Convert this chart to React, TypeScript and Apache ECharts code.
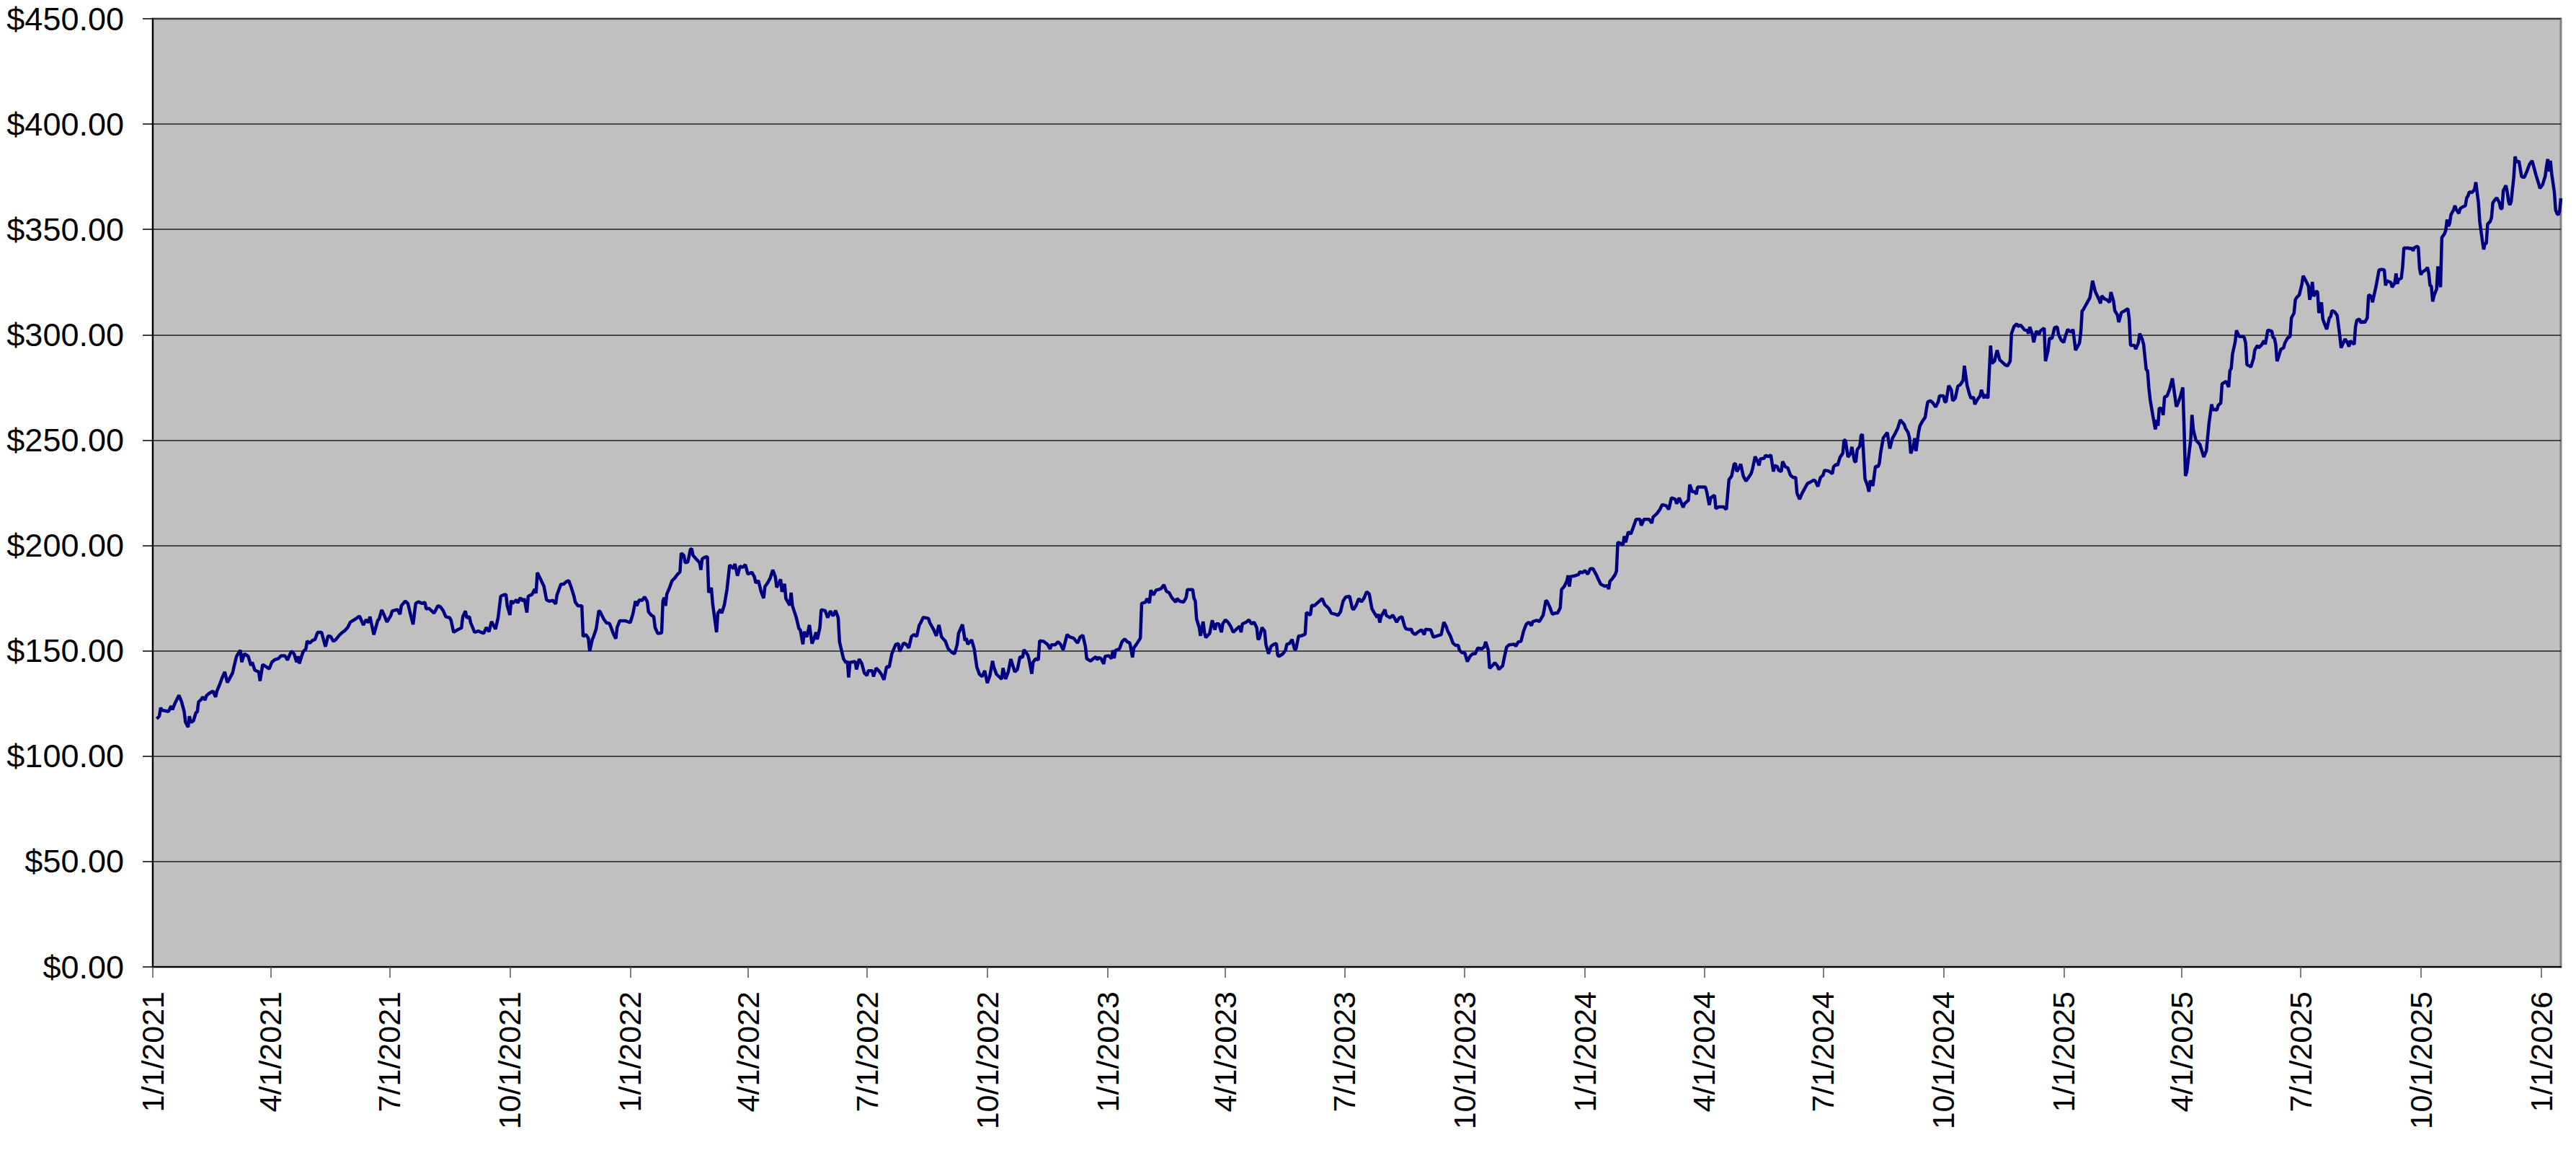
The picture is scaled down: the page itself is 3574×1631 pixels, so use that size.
import React, { useEffect, useRef } from "react";
import * as echarts from "echarts";

// ---- axis definitions ----
const START_DATE_UTC = Date.UTC(2021, 0, 1); // category 0 = 1/1/2021
const LAST_DAY_OFFSET = 1841; // right edge of the plot = 1/16/2026
const quarterStartMonths = [1, 4, 7, 10];
const yAxisMin = 0;
const yAxisMax = 450;
const yAxisStep = 50;

// ---- series values: [days since 1/1/2021, closing price] ----
const prices2021: [number, number][] = [
  [3, 117.8], [5, 119.0], [6, 123.0], [7, 121.8], [10, 121.5], [12, 121.2], [14, 123.8], [15, 122.1], [17, 125.2], [20, 128.9],
  [22, 125.8], [24, 121.2], [25, 116.1], [27, 113.8], [28, 119.0], [29, 116.1], [31, 116.7], [33, 120.7], [34, 121.0], [35, 125.8],
  [37, 126.9], [38, 128.1], [40, 126.7], [41, 128.7], [43, 129.8], [46, 130.9], [48, 128.1], [49, 130.9], [51, 133.8], [53, 137.2],
  [55, 140.0], [57, 134.9], [59, 137.2], [61, 139.5], [62, 142.3], [64, 147.4], [67, 150.3], [68, 144.6], [70, 148.6], [73, 147.4],
  [75, 143.1], [76, 144.6], [78, 140.8], [81, 140.0], [82, 135.7], [84, 143.5], [87, 142.3], [89, 141.4], [91, 144.6], [93, 145.7],
  [96, 146.3], [98, 147.7], [101, 147.7], [103, 145.7], [106, 149.9], [108, 148.6], [110, 144.6], [111, 147.4], [112, 144.0], [115, 149.7],
  [117, 150.9], [118, 154.6], [120, 153.7], [122, 154.9], [124, 155.4], [126, 158.8], [129, 158.8], [132, 152.0], [134, 157.1], [136, 156.8],
  [138, 154.5], [140, 155.4], [143, 157.7], [145, 158.8], [147, 159.7], [149, 161.1], [151, 163.6], [155, 165.1], [158, 166.5], [161, 162.3],
  [163, 164.8], [165, 163.4], [166, 166.2], [169, 157.7], [172, 164.5], [173, 165.1], [175, 169.4], [177, 166.8], [179, 163.7], [182, 166.8],
  [183, 168.9], [187, 169.6], [189, 167.4], [190, 171.4], [193, 173.6], [195, 172.5], [197, 167.4], [199, 162.6], [201, 172.5], [203, 173.3],
  [206, 172.5], [208, 173.1], [209, 169.9], [211, 170.2], [213, 169.1], [215, 167.9], [218, 171.4], [220, 170.8], [222, 169.1], [224, 166.2],
  [227, 165.7], [228, 164.5], [230, 158.8], [233, 160.0], [236, 160.9], [237, 166.2], [239, 168.9], [240, 165.7], [242, 166.2], [243, 163.4],
  [246, 158.8], [249, 159.4], [251, 158.8], [253, 158.3], [255, 161.1], [257, 159.1], [259, 163.9], [262, 160.3], [264, 165.7], [266, 175.9],
  [268, 176.5], [270, 176.8], [271, 171.4], [273, 167.0], [274, 173.9], [275, 172.5], [278, 174.2], [279, 172.7], [281, 175.2], [283, 173.6],
  [284, 174.8], [286, 168.2], [287, 175.9], [290, 176.8], [292, 179.3], [293, 177.3], [294, 187.1], [297, 183.3], [299, 180.7], [301, 174.2],
  [303, 173.6], [306, 173.9], [308, 172.2], [309, 176.5], [311, 179.9], [312, 181.6], [314, 181.6], [316, 182.8], [318, 183.3], [320, 179.9],
  [322, 175.9], [323, 173.1], [325, 171.4], [328, 171.4], [329, 156.8], [331, 157.7], [333, 156.0], [334, 149.9], [336, 155.4], [337, 156.8],
  [339, 160.5], [341, 169.1], [342, 168.5], [345, 164.8], [347, 163.2], [349, 163.1], [350, 161.7], [352, 158.3], [354, 155.8], [355, 161.1],
  [357, 164.3], [361, 164.3],
];

const prices2022: [number, number][] = [
  [365, 163.4], [367, 167.4], [369, 173.6], [370, 171.4], [372, 174.2], [374, 173.9], [376, 175.6], [378, 173.4], [379, 168.5], [381, 167.0],
  [383, 166.2], [384, 161.1], [386, 158.3], [389, 158.5], [390, 173.6], [391, 175.3], [392, 171.4], [393, 177.0], [395, 179.9], [397, 183.3],
  [399, 184.5], [401, 186.2], [403, 187.5], [404, 196.4], [406, 195.3], [407, 191.9], [409, 192.1], [411, 198.1], [412, 198.5], [413, 195.3],
  [416, 193.2], [418, 191.9], [419, 188.4], [420, 193.6], [422, 194.4], [424, 194.7], [425, 177.6], [427, 179.9], [428, 172.5], [431, 158.8],
  [432, 167.9], [434, 169.6], [435, 167.9], [437, 171.9], [439, 179.3], [441, 190.7], [442, 190.2], [444, 189.0], [445, 191.3], [447, 185.6],
  [449, 190.2], [451, 189.6], [453, 190.9], [455, 186.4], [458, 187.3], [460, 185.0], [461, 182.2], [463, 183.3], [465, 178.2], [467, 175.0],
  [468, 180.5], [470, 182.2], [472, 184.5], [474, 188.4], [476, 185.0], [477, 180.1], [480, 183.9], [481, 178.0], [483, 181.8], [484, 174.8],
  [487, 171.6], [488, 177.6], [489, 171.4], [492, 165.7], [494, 160.5], [495, 160.0], [497, 153.1], [498, 159.1], [500, 156.6], [502, 162.3],
  [504, 153.4], [506, 156.6], [507, 158.8], [508, 155.4], [510, 161.1], [511, 169.5], [514, 169.1], [516, 165.7], [518, 168.9], [520, 166.6],
  [522, 169.1], [524, 165.7], [525, 154.3], [528, 146.3], [530, 144.3], [531, 145.2], [532, 137.4], [533, 144.5], [537, 144.9], [538, 141.2],
  [540, 146.1], [542, 144.0], [544, 139.5], [546, 138.3], [547, 140.6], [550, 140.6], [551, 137.8], [553, 141.8], [555, 140.6], [557, 138.9],
  [559, 136.3], [561, 142.5], [563, 142.3], [565, 148.6], [568, 153.1], [570, 153.4], [571, 149.7], [574, 153.7], [576, 153.1], [578, 151.4],
  [580, 156.8], [582, 157.7], [584, 156.8], [586, 162.3], [587, 163.2], [589, 165.9], [593, 165.4], [594, 163.4], [597, 160.0], [599, 157.1],
  [601, 162.3], [603, 156.6], [606, 154.5], [608, 151.1], [611, 149.2], [613, 148.6], [615, 153.1], [616, 158.3], [619, 162.5], [621, 154.8],
  [622, 156.0], [623, 153.1], [626, 155.2], [628, 150.9], [630, 142.3], [632, 138.9], [634, 137.8], [636, 140.6], [638, 134.7], [640, 138.3],
  [642, 145.2], [643, 142.3], [645, 138.9], [647, 137.8], [649, 136.6], [650, 141.8], [652, 136.6], [654, 140.0], [656, 146.1], [659, 140.0],
  [661, 141.2], [663, 147.2], [665, 146.9], [666, 150.5], [669, 148.0], [670, 145.7], [672, 139.1], [673, 144.6], [675, 146.3], [677, 145.7],
  [678, 154.8], [681, 154.5], [684, 153.1], [686, 150.9], [687, 152.9], [690, 152.9], [692, 154.3], [694, 153.1], [696, 150.5], [699, 157.7],
  [701, 156.6], [704, 156.0], [707, 153.7], [709, 156.6], [711, 157.4], [713, 152.0], [714, 146.3], [717, 145.2], [719, 146.3], [721, 147.2],
  [722, 145.7], [723, 146.9], [725, 146.3], [727, 143.8], [728, 147.4],
];

const prices2023: [number, number][] = [
  [731, 147.7], [733, 146.3], [734, 150.3], [735, 146.5], [736, 150.3], [739, 150.9], [741, 154.3], [743, 155.6], [745, 154.3], [747, 153.7],
  [749, 146.9], [750, 151.4], [752, 153.1], [755, 156.0], [756, 172.5], [759, 173.1], [760, 174.8], [762, 172.7], [763, 178.8], [765, 176.5],
  [767, 178.8], [769, 179.1], [771, 179.6], [773, 181.3], [775, 178.2], [777, 177.6], [779, 175.3], [782, 173.1], [783, 174.8], [785, 173.6],
  [788, 173.1], [790, 175.3], [791, 179.1], [795, 179.1], [796, 175.0], [797, 173.6], [798, 165.1], [800, 161.1], [801, 157.1], [803, 163.9],
  [804, 158.8], [805, 156.3], [808, 158.3], [810, 164.5], [812, 160.0], [813, 162.8], [815, 162.8], [817, 158.8], [818, 162.8], [820, 164.7],
  [822, 163.6], [824, 161.7], [826, 158.8], [828, 160.0], [831, 161.7], [832, 158.8], [833, 162.8], [836, 163.6], [838, 164.7], [840, 162.8],
  [842, 163.6], [844, 160.9], [845, 155.4], [846, 156.0], [848, 161.1], [850, 159.4], [851, 153.1], [853, 148.6], [855, 152.2], [857, 153.1],
  [859, 153.5], [860, 148.0], [861, 147.4], [864, 148.6], [866, 150.3], [867, 153.1], [869, 153.5], [871, 155.4], [873, 150.6], [874, 150.9],
  [876, 157.1], [878, 157.1], [881, 157.9], [882, 168.2], [885, 167.0], [886, 171.6], [888, 171.4], [891, 173.1], [894, 174.8], [896, 171.9],
  [899, 170.2], [901, 167.9], [904, 167.4], [906, 166.8], [908, 168.5], [910, 173.6], [912, 175.6], [915, 175.9], [917, 170.2], [918, 169.6],
  [920, 171.6], [922, 174.8], [924, 173.3], [926, 175.0], [928, 178.0], [930, 177.0], [932, 170.0], [934, 167.9], [936, 165.9], [937, 167.4],
  [938, 163.4], [939, 166.2], [942, 169.6], [943, 166.8], [946, 165.7], [948, 167.0], [951, 163.6], [952, 164.7], [953, 165.7], [955, 166.2],
  [957, 161.7], [958, 160.5], [961, 160.0], [962, 160.5], [963, 158.8], [965, 157.7], [967, 158.8], [970, 160.0], [972, 157.7], [973, 160.2],
  [977, 160.0], [979, 156.5], [982, 157.1], [985, 157.7], [987, 163.6], [989, 161.3], [990, 159.4], [992, 157.1], [994, 153.7], [996, 152.6],
  [998, 152.6], [999, 150.3], [1001, 149.1], [1003, 149.1], [1005, 144.9], [1007, 147.4], [1009, 148.6], [1011, 148.6], [1013, 151.4], [1016, 150.9],
  [1018, 152.0], [1019, 154.3], [1021, 150.3], [1022, 141.7], [1024, 142.9], [1026, 144.3], [1028, 142.9], [1029, 141.2], [1032, 142.9], [1033, 146.1],
  [1035, 151.8], [1037, 152.9], [1041, 153.1], [1042, 152.2], [1044, 154.3], [1046, 154.5], [1048, 159.4], [1050, 162.6], [1052, 163.6], [1054, 162.0],
  [1055, 163.9], [1058, 164.5], [1060, 163.9], [1063, 167.0], [1065, 173.9], [1066, 173.4], [1068, 170.8], [1070, 167.4], [1072, 167.9], [1074, 167.9],
  [1076, 170.4], [1077, 179.1], [1079, 180.5], [1081, 183.0], [1082, 185.8], [1083, 180.5], [1084, 185.2], [1087, 185.6], [1090, 186.2], [1091, 187.5],
  [1093, 187.1],
];

const prices2024: [number, number][] = [
  [1095, 188.1], [1097, 186.4], [1099, 189.0], [1101, 189.0], [1104, 185.6], [1105, 184.1], [1107, 181.6], [1110, 180.7], [1112, 181.0], [1113, 179.3],
  [1114, 183.0], [1116, 184.4], [1118, 186.2], [1119, 187.9], [1120, 201.5], [1122, 201.0], [1124, 200.4], [1125, 204.4], [1126, 201.5], [1128, 206.4],
  [1130, 205.5], [1132, 208.9], [1134, 212.4], [1137, 212.4], [1138, 209.5], [1140, 212.4], [1144, 212.4], [1146, 210.6], [1147, 213.5], [1150, 215.2],
  [1152, 216.9], [1154, 219.4], [1157, 218.9], [1159, 217.1], [1161, 222.6], [1164, 222.0], [1165, 219.8], [1167, 222.6], [1170, 218.1], [1171, 219.8],
  [1174, 221.5], [1175, 228.9], [1177, 225.5], [1179, 225.5], [1180, 224.3], [1181, 227.7], [1184, 227.7], [1187, 227.7], [1188, 225.5], [1190, 219.2],
  [1191, 222.6], [1194, 223.8], [1195, 217.5], [1197, 218.3], [1201, 218.3], [1203, 217.1], [1205, 231.2], [1207, 232.9], [1209, 238.8], [1210, 238.8],
  [1211, 235.1], [1213, 237.2], [1214, 238.6], [1216, 232.9], [1218, 230.6], [1220, 232.3], [1222, 234.2], [1223, 236.3], [1225, 242.2], [1227, 239.7],
  [1228, 238.0], [1229, 241.1], [1232, 241.4], [1233, 242.8], [1235, 242.2], [1237, 242.9], [1239, 235.1], [1240, 238.0], [1242, 237.4], [1243, 235.7],
  [1245, 235.1], [1246, 239.9], [1248, 237.4], [1250, 236.8], [1252, 233.4], [1254, 232.3], [1256, 232.3], [1257, 224.9], [1259, 222.0], [1261, 224.9],
  [1265, 229.4], [1267, 230.0], [1270, 231.1], [1271, 230.6], [1273, 228.0], [1275, 232.3], [1277, 233.4], [1278, 235.7], [1281, 235.4], [1283, 234.6],
  [1284, 234.0], [1285, 237.4], [1287, 238.6], [1288, 238.0], [1290, 242.0], [1292, 243.7], [1293, 250.0], [1294, 250.0], [1296, 242.0], [1298, 243.7],
  [1299, 246.8], [1301, 239.9], [1302, 239.7], [1303, 245.4], [1305, 247.1], [1306, 252.2], [1307, 252.8], [1309, 231.7], [1311, 228.3], [1312, 225.5],
  [1313, 230.8], [1315, 228.3], [1317, 237.6], [1319, 237.4], [1320, 239.1], [1321, 244.2], [1323, 251.1], [1325, 252.8], [1326, 253.6], [1328, 246.0],
  [1330, 250.9], [1332, 253.1], [1334, 255.6], [1336, 259.6], [1339, 257.4], [1340, 255.6], [1342, 253.6], [1343, 251.1], [1344, 243.7], [1346, 247.1],
  [1347, 250.9], [1348, 244.8], [1350, 253.9], [1351, 256.8], [1353, 259.1], [1355, 260.8], [1356, 264.8], [1357, 268.2], [1359, 268.7], [1361, 267.6],
  [1363, 265.7], [1365, 268.2], [1366, 271.0], [1369, 271.0], [1370, 268.2], [1371, 268.2], [1373, 275.9], [1375, 273.9], [1376, 268.7], [1378, 269.9],
  [1380, 275.6], [1382, 276.4], [1384, 278.4], [1385, 285.3], [1387, 276.1], [1389, 271.6], [1390, 269.9], [1392, 270.4], [1393, 267.0], [1395, 269.3],
  [1397, 271.0], [1398, 273.9], [1400, 269.9], [1401, 271.6], [1403, 269.9], [1405, 294.9], [1406, 286.4], [1408, 287.5], [1410, 292.7], [1412, 288.1],
  [1414, 287.0], [1416, 285.8], [1418, 285.3], [1420, 287.5], [1421, 300.6], [1423, 304.0], [1425, 305.2], [1426, 304.0], [1428, 304.6], [1431, 302.3],
  [1433, 302.1], [1434, 300.6], [1435, 303.7], [1437, 300.1], [1438, 296.4], [1440, 301.8], [1442, 300.1], [1443, 301.8], [1446, 303.2], [1447, 287.5],
  [1449, 292.7], [1450, 298.3], [1452, 298.3], [1454, 303.5], [1456, 303.7], [1457, 300.1], [1459, 297.4],
];

const prices2025: [number, number][] = [
  [1461, 296.4], [1462, 298.9], [1464, 302.6], [1465, 301.8], [1467, 301.4], [1468, 302.6], [1470, 292.7], [1473, 296.1], [1474, 301.2], [1475, 311.4],
  [1476, 312.0], [1478, 314.3], [1481, 317.7], [1483, 325.7], [1485, 320.6], [1488, 316.6], [1489, 314.9], [1490, 318.5], [1492, 317.1], [1494, 316.6],
  [1496, 315.4], [1497, 320.3], [1499, 316.0], [1500, 311.4], [1502, 309.4], [1503, 306.0], [1505, 310.5], [1507, 311.2], [1510, 312.4], [1511, 307.5],
  [1512, 295.0], [1515, 295.0], [1516, 293.2], [1518, 296.1], [1519, 300.6], [1521, 297.8], [1522, 295.5], [1524, 283.5], [1525, 283.0], [1526, 275.0],
  [1527, 269.3], [1529, 261.9], [1531, 255.1], [1532, 259.6], [1533, 256.8], [1534, 265.3], [1536, 264.8], [1537, 261.9], [1538, 270.5], [1540, 271.0],
  [1542, 274.4], [1544, 279.3], [1545, 275.0], [1547, 265.9], [1548, 267.0], [1550, 270.5], [1552, 275.0], [1553, 255.0], [1554, 233.0], [1555, 235.0],
  [1556, 240.0], [1558, 250.0], [1559, 262.0], [1560, 255.0], [1562, 250.0], [1565, 248.0], [1568, 242.0], [1570, 245.0], [1572, 258.0], [1574, 267.0],
  [1575, 264.2], [1576, 264.7], [1578, 264.2], [1579, 266.5], [1581, 267.6], [1582, 276.7], [1584, 277.5], [1585, 277.9], [1587, 275.2], [1588, 283.0],
  [1589, 284.1], [1590, 291.0], [1592, 296.6], [1593, 302.1], [1595, 299.2], [1598, 299.2], [1599, 298.7], [1600, 296.1], [1601, 285.8], [1603, 285.3],
  [1604, 284.7], [1606, 288.7], [1607, 292.7], [1609, 295.0], [1610, 293.8], [1612, 295.0], [1614, 297.2], [1615, 295.5], [1617, 302.3], [1619, 301.8],
  [1620, 301.8], [1621, 298.7], [1622, 298.4], [1623, 295.5], [1624, 287.5], [1625, 289.2], [1627, 293.2], [1629, 293.8], [1630, 296.1], [1632, 298.4],
  [1634, 299.2], [1635, 308.0], [1637, 310.3], [1638, 316.6], [1639, 317.7], [1641, 318.9], [1643, 324.0], [1644, 328.0], [1646, 325.7], [1648, 323.1],
  [1649, 316.6], [1650, 319.4], [1651, 325.1], [1652, 318.3], [1654, 320.6], [1655, 320.3], [1656, 310.3], [1658, 315.4], [1659, 307.5], [1660, 305.8],
  [1662, 302.6], [1664, 308.0], [1665, 308.6], [1666, 311.5], [1668, 310.9], [1670, 309.2], [1672, 299.5], [1673, 293.8], [1675, 296.6], [1676, 298.0],
  [1678, 296.1], [1679, 294.4], [1680, 297.2], [1681, 296.4], [1683, 295.5], [1684, 303.7], [1685, 306.9], [1687, 307.5], [1688, 305.8], [1690, 306.3],
  [1691, 305.8], [1693, 308.0], [1694, 318.9], [1696, 318.3], [1697, 315.4], [1699, 321.1], [1700, 324.0], [1702, 330.8], [1704, 331.0], [1706, 330.8],
  [1707, 323.4], [1708, 325.7], [1709, 325.3], [1711, 324.9], [1712, 322.6], [1714, 324.6], [1715, 329.1], [1716, 324.2], [1717, 326.3], [1719, 326.8],
  [1720, 332.0], [1721, 341.3], [1723, 341.1], [1724, 341.3], [1726, 340.8], [1727, 341.3], [1728, 339.9], [1729, 341.3], [1731, 342.0], [1732, 341.6],
  [1733, 331.4], [1734, 328.5], [1735, 329.7], [1738, 331.0], [1739, 332.0], [1740, 329.1], [1741, 323.4], [1742, 323.1], [1743, 315.8], [1744, 318.5],
  [1746, 321.7], [1747, 332.5], [1748, 326.3], [1749, 322.6], [1750, 346.2], [1752, 347.9], [1753, 349.6], [1754, 354.7], [1755, 351.5], [1756, 353.0],
  [1757, 357.0], [1759, 359.3], [1760, 361.3], [1761, 359.5], [1763, 357.6], [1764, 359.9], [1766, 360.7], [1768, 361.3], [1769, 365.0], [1770, 365.9],
  [1771, 367.8], [1773, 367.5], [1775, 369.0], [1776, 372.4], [1778, 362.7], [1779, 353.6], [1781, 344.5], [1782, 340.5], [1783, 343.3], [1784, 343.3],
  [1785, 352.5], [1787, 353.8], [1788, 355.6], [1789, 362.7], [1791, 364.4], [1792, 365.0], [1794, 362.7], [1795, 359.9], [1796, 359.9], [1797, 368.4],
  [1799, 370.9], [1800, 367.8], [1801, 363.3], [1802, 361.6], [1803, 363.3], [1805, 374.7], [1806, 384.6], [1807, 382.1], [1809, 382.3], [1811, 375.0],
  [1813, 374.7], [1815, 377.5], [1817, 380.9], [1819, 382.6], [1820, 380.4], [1822, 375.8], [1824, 371.8], [1825, 369.5],
];

const prices2026: [number, number][] = [
  [1827, 371.2], [1829, 375.2], [1830, 379.8], [1831, 383.4], [1832, 377.5], [1833, 382.6], [1834, 376.4], [1836, 367.8], [1837, 359.3], [1838, 357.6],
  [1839, 357.0], [1840, 358.5], [1841, 364.8],
];

const FONT = "'Liberation Sans', Arial, Helvetica, sans-serif";

function dayLabel(offset: number): string {
  const d = new Date(START_DATE_UTC + offset * 86400000);
  return `${d.getUTCMonth() + 1}/${d.getUTCDate()}/${d.getUTCFullYear()}`;
}

const dayCategories: string[] = Array.from({ length: LAST_DAY_OFFSET + 1 }, (_, i) => dayLabel(i));

function isQuarterStart(_index: number, label: string): boolean {
  const parts = label.split("/");
  return parts[1] === "1" && quarterStartMonths.includes(Number(parts[0]));
}

export default function App() {
  const ref = useRef<HTMLDivElement | null>(null);

  useEffect(() => {
    if (!ref.current) return;
    const chart = echarts.init(ref.current, undefined, { renderer: "svg" });
    const allPrices = [...prices2021, ...prices2022, ...prices2023, ...prices2024, ...prices2025, ...prices2026];
    const seriesData = allPrices.map(([off, p]) => [dayCategories[off], p]);

    chart.setOption({
      animation: false,
      backgroundColor: "#ffffff",
      grid: {
        left: 212,
        right: 21,
        top: 26,
        bottom: 290,
        show: true,
        backgroundColor: "#C0C0C0",
        borderColor: "#808080",
        borderWidth: 3,
        containLabel: false,
        outerBoundsMode: "none",
      },
      xAxis: {
        type: "category",
        data: dayCategories,
        boundaryGap: false,
        axisLine: { show: true, lineStyle: { color: "#000000", width: 2 } },
        axisTick: {
          show: true,
          interval: isQuarterStart,
          length: 15,
          lineStyle: { color: "#555555", width: 1.5 },
        },
        axisLabel: {
          interval: isQuarterStart,
          rotate: 90,
          margin: 34,
          fontSize: 43,
          color: "#000000",
          fontFamily: FONT,
        },
        splitLine: { show: false },
      },
      yAxis: {
        type: "value",
        min: yAxisMin,
        max: yAxisMax,
        interval: yAxisStep,
        axisLine: { show: true, lineStyle: { color: "#000000", width: 2 } },
        axisTick: { show: true, length: 14, lineStyle: { color: "#000000", width: 1.5 } },
        axisLabel: {
          formatter: (v: number) => "$" + v.toFixed(2),
          fontSize: 45,
          margin: 40,
          color: "#000000",
          fontFamily: FONT,
        },
        splitLine: { show: true, lineStyle: { color: "#222222", width: 1.5 } },
      },
      series: [
        {
          type: "line",
          data: seriesData,
          showSymbol: false,
          symbol: "none",
          lineStyle: { color: "#000080", width: 4.5 },
          itemStyle: { color: "#000080" },
        },
      ],
    });

    return () => chart.dispose();
  }, []);

  return (
    <div
      ref={ref}
      style={{ position: "absolute", left: 0, top: 0, width: 3574, height: 1631, background: "#ffffff" }}
    />
  );
}
